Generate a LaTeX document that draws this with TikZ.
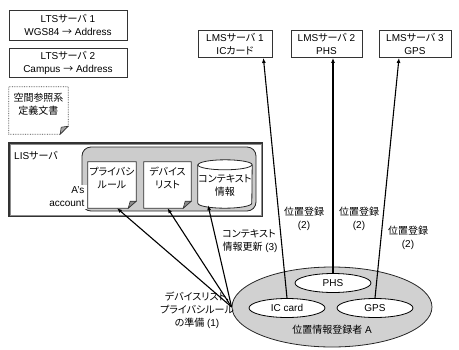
\documentclass[tikz,border=0pt]{standalone}
\usepackage{fontspec}
\setmainfont{Liberation Sans}
\newfontfamily\jpf[RawFeature={+palt}]{Noto Sans CJK JP}
\newcommand{\jp}[1]{{\jpf #1}}
\usetikzlibrary{shapes.geometric,arrows.meta}
\begin{document}
\begin{tikzpicture}[x=1pt,y=-1pt,
  font=\fontsize{10}{13}\selectfont,
  box/.style={draw=black!80, line width=0.8pt, align=center, inner sep=0pt, fill=white},
  docbox/.style={inner sep=0pt, minimum width=48pt, minimum height=46pt},
  docline/.style={draw=black!80, line width=0.7pt, fill=white},
  conn/.style={line width=1.1pt, -{Latex[length=5pt,width=4pt]}},
  lbl/.style={align=center, inner sep=0pt},
  smallell/.style={ellipse, draw, line width=0.8pt, fill=white, inner sep=0pt, minimum width=76pt, minimum height=19pt}
]
\useasboundingbox (0,0) rectangle (459,349);

% LTS servers
\node[box, minimum width=118pt, minimum height=30pt] (lts1) at (68,25) {LTS\jp{サーバ} 1\\WGS84 \jp{→} Address};
\node[box, minimum width=118pt, minimum height=29pt] (lts2) at (68,62.5) {LTS\jp{サーバ} 2\\Campus \jp{→} Address};

% spatial reference document
\node[docbox, minimum width=59pt, minimum height=47pt] (spdoc) at (38.5,110.5) {};
\draw[draw=black!75, densely dotted, line width=0.7pt] (spdoc.north west) -- (spdoc.north east) -- ([yshift=8pt]spdoc.south east) -- ([xshift=-8pt]spdoc.south east) -- (spdoc.south west) -- cycle;
\draw[draw=black!80, line width=0.6pt, fill=black!35] ([yshift=8pt]spdoc.south east) -- ([xshift=-8pt]spdoc.south east) -- ([xshift=-7pt,yshift=7pt]spdoc.south east) -- cycle;
\node[lbl] (spdoct) at (38.5,104) {\jp{空間参照系}\\\jp{定義文書}};

% LIS server
\node[draw=black!80, line width=1.4pt, minimum width=253pt, minimum height=73pt, inner sep=0pt] (lis) at (135.5,179.5) {};
\draw[black!45, line width=0.6pt] ([xshift=1.5pt,yshift=-1.5pt]lis.north west) rectangle ([xshift=-1.5pt,yshift=1.5pt]lis.south east);
\node[anchor=west, inner sep=0pt] (lislbl) at (14,156) {LIS\jp{サーバ}};

% account area
\node[draw=black!85, line width=0.8pt, rounded corners=9pt, fill=black!20, minimum width=174pt, minimum height=64pt, inner sep=0pt] (acc) at (169,179) {};

% privacy rule doc
\node[docbox] (priv) at (112,185) {};
\draw[docline] (priv.north west) -- (priv.north east) -- ([yshift=7pt]priv.south east) -- ([xshift=-8pt]priv.south east) -- (priv.south west) -- cycle;
\draw[draw=black!80, line width=0.6pt, fill=black!45] ([yshift=7pt]priv.south east) -- ([xshift=-8pt]priv.south east) -- ([xshift=-6pt,yshift=7pt]priv.south east) -- cycle;
\node[lbl] (privt) at (112,178) {\jp{プライバシ}\\\jp{ルール}};

% device list doc
\node[docbox, minimum width=47pt] (dev) at (167.5,185) {};
\draw[docline] (dev.north west) -- (dev.north east) -- ([yshift=7pt]dev.south east) -- ([xshift=-8pt]dev.south east) -- (dev.south west) -- cycle;
\draw[draw=black!80, line width=0.6pt, fill=black!45] ([yshift=7pt]dev.south east) -- ([xshift=-8pt]dev.south east) -- ([xshift=-6pt,yshift=7pt]dev.south east) -- cycle;
\node[lbl] (devt) at (167.5,178) {\jp{デバイス}\\\jp{リスト}};

% context info cylinder
\node[inner sep=0pt, minimum width=54pt, minimum height=48pt] (ctx) at (225,184) {};
\draw[draw=black!85, line width=0.8pt, fill=white]
  ([yshift=-5pt]ctx.north west) -- ([yshift=5pt]ctx.south west)
  arc[start angle=180, end angle=360, x radius=27pt, y radius=5pt]
  -- ([yshift=-5pt]ctx.north east)
  arc[start angle=0, end angle=180, x radius=27pt, y radius=5pt] -- cycle;
\draw[draw=black!85, line width=0.8pt] ([yshift=-5pt]ctx.north west) arc[start angle=180, end angle=360, x radius=27pt, y radius=5pt];
\node[lbl] (ctxt) at (225,185) {\jp{コンテキスト}\\\jp{情報}};

% A's account label
\node[fill=white, align=right, anchor=east, inner xsep=3pt, inner ysep=2pt] (acct) at (87.5,197) {A's\\account};

% LMS servers
\node[box, minimum width=74pt, minimum height=27pt] (lms1) at (235,44) {LMS\jp{サーバ} 1\\IC\jp{カード}};
\node[box, minimum width=71pt, minimum height=27pt] (lms2) at (326.5,44) {LMS\jp{サーバ} 2\\PHS};
\node[box, minimum width=72pt, minimum height=27pt] (lms3) at (415,44) {LMS\jp{サーバ} 3\\GPS};

% location registrant
\node[ellipse, draw=black!85, line width=0.8pt, fill=black!18, minimum width=200pt, minimum height=80pt, inner sep=0pt] (person) at (332,307) {};
\node[smallell] (phs) at (333,283) {PHS};
\node[smallell] (ic) at (287,308) {IC card};
\node[smallell] (gps) at (375,308) {GPS};
\node[lbl] (plabel) at (332,330) {\jp{位置情報登録者} A};

% connectors
\draw[conn] (ic.north) -- ([xshift=-9pt]lms1.south east);
\draw[conn] (phs.north) -- ([xshift=6.5pt]lms2.south);
\draw[conn] (gps.north) -- ([xshift=-16pt]lms3.south);
\draw[conn] (person.west) -- ([xshift=5pt]priv.south);
\draw[conn] (person.west) -- (dev.south);
\draw[conn] (person.west) -- ([xshift=-17pt,yshift=3pt]ctx.south);

% labels
\node[lbl] (reg1) at (304,219) {\jp{位置登録}\\(2)};
\node[lbl] (reg2) at (359,219) {\jp{位置登録}\\(2)};
\node[lbl] (reg3) at (408,238) {\jp{位置登録}\\(2)};
\node[lbl, align=left] (upd) at (250,241) {\jp{コンテキスト}\\\jp{情報更新} (3)};
\node[lbl] (prep) at (197,310) {\jp{デバイスリスト,}\\\jp{プライバシルール}\\\jp{の準備} (1)};
\end{tikzpicture}
\end{document}
